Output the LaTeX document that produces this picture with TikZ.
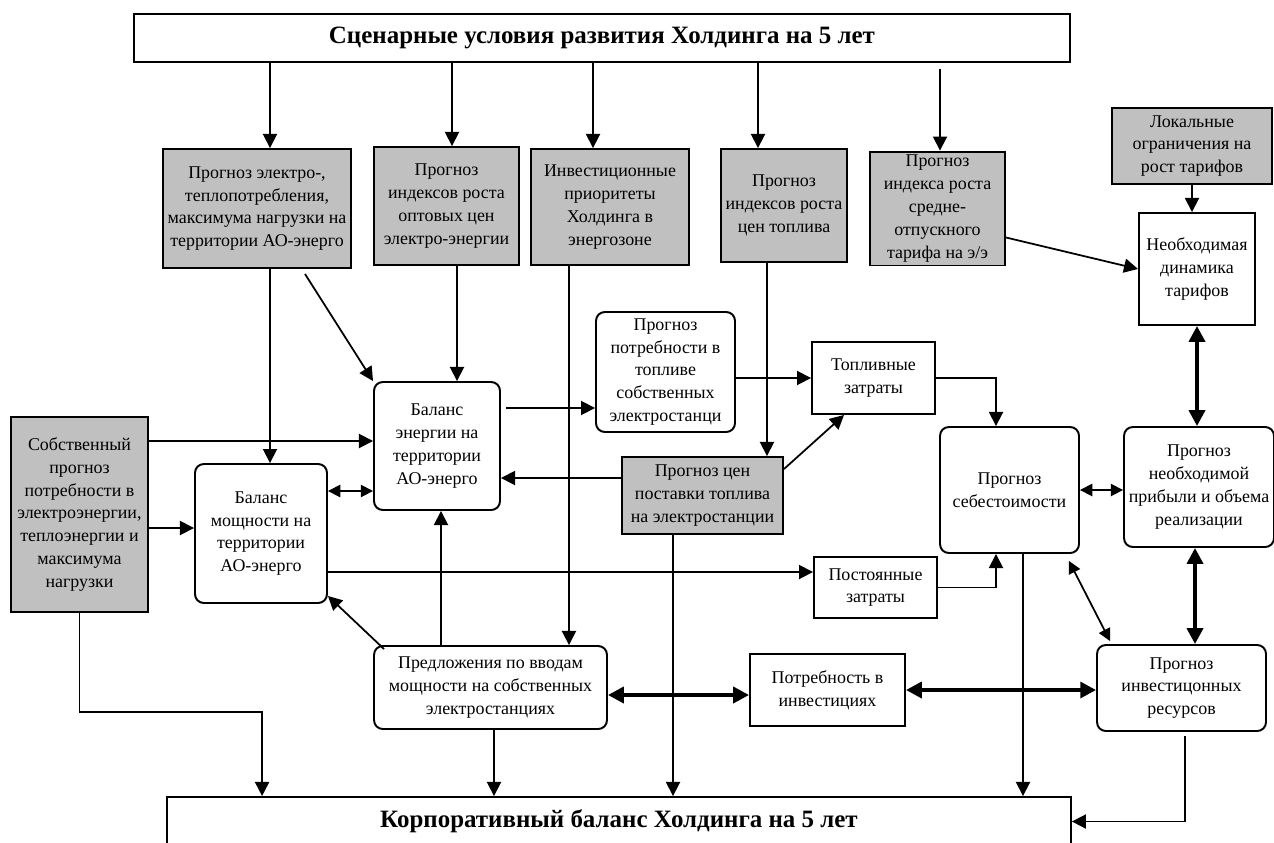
\documentclass[tikz,border=0pt]{standalone}
\usepackage{fontspec}
\setmainfont{Liberation Serif}
\usetikzlibrary{arrows.meta}
\definecolor{BoxGray}{RGB}{192,192,192}

\begin{document}
\begin{tikzpicture}[
        x=0.02cm, y=-0.02cm,
        inbox/.style={
            draw=black,
            fill=BoxGray,
            line width=1.1pt,
            inner sep=2pt,
            align=center,
            font=\fontsize{10.2}{13}\selectfont
        },
        procbox/.style={
            inbox,
            fill=white,
            rounded corners=5pt
        },
        plainbox/.style={
            inbox,
            fill=white
        },
        headbox/.style={
            draw=black,
            fill=white,
            line width=1.1pt,
            font=\bfseries\fontsize{14.2}{16}\selectfont
        },
        link/.style={
            -{Triangle[length=8pt,width=8pt]},
            line width=1pt
        },
        duallink/.style={
            {Triangle[length=7pt,width=7pt]}-{Triangle[length=7pt,width=7pt]},
            line width=1pt
        },
        boldlink/.style={
            {Triangle[length=9pt,width=9pt]}-{Triangle[length=9pt,width=9pt]},
            line width=2.2pt
        }
    ]
        \useasboundingbox (0,0) rectangle (1274,842);

        % top and bottom bars
        \node[headbox, minimum width=18.72cm, minimum height=0.96cm] (scen) at (602,38) {Сценарные условия развития Холдинга на 5 лет};
        \node[headbox, minimum width=18.08cm, minimum height=0.98cm] (corp) at (619,821.5) {Корпоративный баланс Холдинга на 5 лет};

        % input forecasts
        \node[inbox, minimum width=3.76cm, minimum height=2.38cm] (elprog) at (257,208.5) {Прогноз электро-,\\теплопотребления,\\максимума нагрузки на\\территории АО-энерго};
        \node[inbox, minimum width=2.9cm, minimum height=2.36cm] (wholesale) at (446.5,206) {Прогноз\\индексов роста\\оптовых цен\\электро-энергии};
        \node[inbox, minimum width=3.16cm, minimum height=2.32cm] (invprio) at (610,207) {Инвестиционные\\приоритеты\\Холдинга в\\энергозоне};
        \node[inbox, minimum width=2.52cm, minimum height=2.26cm] (fuelidx) at (784,205.5) {Прогноз\\индексов роста\\цен топлива};
        \node[inbox, minimum width=2.7cm, minimum height=2.26cm] (tarifidx) at (937.5,208.5) {Прогноз\\индекса роста\\средне-\\отпускного\\тарифа на э/э};
        \node[inbox, minimum width=3.2cm, minimum height=1.52cm] (limits) at (1192,146) {Локальные\\ограничения на\\рост тарифов};
        \node[inbox, minimum width=2.74cm, minimum height=3.9cm] (ownprog) at (79.5,514.5) {Собственный\\прогноз\\потребности в\\электроэнергии,\\теплоэнергии и\\максимума\\нагрузки};
        \node[inbox, minimum width=3.22cm, minimum height=1.54cm] (fuelprice) at (702.5,495.5) {Прогноз цен\\поставки топлива\\на электростанции};

        % balances and results
        \node[plainbox, minimum width=2.32cm, minimum height=2.24cm] (tarifdyn) at (1197,269) {Необходимая\\динамика\\тарифов};
        \node[procbox, minimum width=2.64cm, minimum height=2.78cm] (powbal) at (261,533.5) {Баланс\\мощности на\\территории\\АО-энерго};
        \node[procbox, minimum width=2.52cm, minimum height=2.56cm] (enbal) at (437,446) {Баланс\\энергии на\\территории\\АО-энерго};
        \node[procbox, minimum width=2.78cm, minimum height=2.4cm] (fuelneed) at (665.5,372) {Прогноз\\потребности в\\топливе\\собственных\\электростанци};
        \node[plainbox, minimum width=2.46cm, minimum height=1.44cm] (fuelcost) at (873.5,378) {Топливные\\затраты};
        \node[plainbox, minimum width=2.46cm, minimum height=1.22cm] (fixcost) at (875.5,587.5) {Постоянные\\затраты};
        \node[procbox, minimum width=2.78cm, minimum height=2.52cm] (cost) at (1009.5,490) {Прогноз\\себестоимости};
        \node[procbox, minimum width=3.0cm, minimum height=2.4cm] (profit) at (1199,487) {Прогноз\\необходимой\\прибыли и объема\\реализации};
        \node[procbox, minimum width=4.66cm, minimum height=1.66cm] (offers) at (490.5,687.5) {Предложения по вводам\\мощности на собственных\\электростанциях};
        \node[plainbox, minimum width=3.1cm, minimum height=1.44cm] (invneed) at (827.5,690) {Потребность в\\инвестициях};
        \node[procbox, minimum width=3.38cm, minimum height=1.72cm] (invres) at (1181.5,688) {Прогноз\\инвестицонных\\ресурсов};

        % from the scenario bar
        \draw[link] ([xshift=0.26cm]scen.south -| elprog.north) -- ([xshift=0.26cm]elprog.north);
        \draw[link] ([xshift=0.11cm]scen.south -| wholesale.north) -- ([xshift=0.11cm]wholesale.north);
        \draw[link] ([xshift=-0.34cm]scen.south -| invprio.north) -- ([xshift=-0.34cm]invprio.north);
        \draw[link] ([xshift=-0.52cm]scen.south -| fuelidx.north) -- ([xshift=-0.52cm]fuelidx.north);
        \draw[link] ([xshift=0.05cm,yshift=-0.12cm]scen.south -| tarifidx.north) -- ([xshift=0.05cm]tarifidx.north);

        % tariffs
        \draw[link] (limits.south) -- (limits.south |- tarifdyn.north);
        \draw[link] ([yshift=-0.58cm]tarifidx.east) -- (tarifdyn.west);
        \draw[boldlink] (tarifdyn.south) -- (tarifdyn.south |- profit.north);

        % balances
        \draw[link] ([xshift=0.18cm]powbal.north |- elprog.south) -- ([xshift=0.18cm]powbal.north);
        \draw[link] ([xshift=0.96cm,yshift=-0.1cm]elprog.south) -- (enbal.north west);
        \draw[link] ([xshift=0.4cm]enbal.north |- wholesale.south) -- ([xshift=0.4cm]enbal.north);
        \draw[link] ([xshift=1.57cm]offers.north |- invprio.south) -- ([xshift=1.57cm]offers.north);
        \draw[link] ([xshift=1.29cm]fuelprice.north |- fuelidx.south) -- ([xshift=1.29cm]fuelprice.north);
        \draw[link] ([yshift=0.1cm]enbal.west -| ownprog.east) -- ([yshift=0.1cm]enbal.west);
        \draw[link] ([yshift=0.11cm]powbal.west -| ownprog.east) -- ([yshift=0.11cm]powbal.west);
        \draw[duallink] ([yshift=0.85cm]powbal.east) -- ([yshift=0.85cm]powbal.east -| enbal.west);
        \draw[link] ([yshift=-0.72cm,xshift=0.1cm]fuelneed.west -| enbal.east) -- ([yshift=-0.72cm]fuelneed.west);
        \draw[link] ([yshift=0.35cm]fuelprice.west) -- ([yshift=0.35cm]fuelprice.west -| enbal.east);
        \draw[link] ([xshift=0.08cm]enbal.south |- offers.north) -- ([xshift=0.08cm]enbal.south);
        \draw[link] ([xshift=0.22cm,yshift=-0.08cm]offers.north west) -- ([yshift=0.16cm]powbal.south east);
        \draw[link] ([yshift=0.31cm]fixcost.west -| powbal.east) -- ([yshift=0.31cm]fixcost.west);

        % costs
        \draw[link] (fuelcost.west -| fuelneed.east) -- (fuelcost.west);
        \draw[link] ([yshift=-0.26cm]fuelprice.north east) -- ([xshift=0.66cm]fuelcost.south west);
        \draw[link] (fuelcost.east) -| ([xshift=-0.27cm]cost.north);
        \draw[link] (fixcost.east) -| ([xshift=-0.27cm]cost.south);
        \draw[duallink] (cost.east) -- (cost.east -| profit.west);
        \draw[duallink] ([xshift=-0.22cm,yshift=-0.14cm]cost.south east) -- ([xshift=0.28cm,yshift=0.06cm]invres.north west);
        \draw[boldlink] ([xshift=-0.08cm]profit.south) -- ([xshift=-0.08cm]profit.south |- invres.north);

        % investments
        \draw[boldlink] ([yshift=-0.15cm]offers.east) -- ([yshift=-0.15cm]offers.east -| invneed.west);
        \draw[boldlink] (invneed.east) -- (invneed.east -| invres.west);

        % into the corporate balance
        \draw[link] (ownprog.south) |- ([xshift=-7.14cm,yshift=1.68cm]corp.north) -- ([xshift=-7.14cm]corp.north);
        \draw[link] ([xshift=0.07cm]offers.south) -- ([xshift=0.07cm]offers.south |- corp.north);
        \draw[link] ([xshift=-0.59cm]fuelprice.south) -- ([xshift=-0.59cm]fuelprice.south |- corp.north);
        \draw[link] ([xshift=0.27cm]cost.south) -- ([xshift=0.27cm]cost.south |- corp.north);
        \draw[link] ([xshift=0.07cm,yshift=-0.08cm]invres.south) |- (corp.east);
    \end{tikzpicture}
\end{document}
